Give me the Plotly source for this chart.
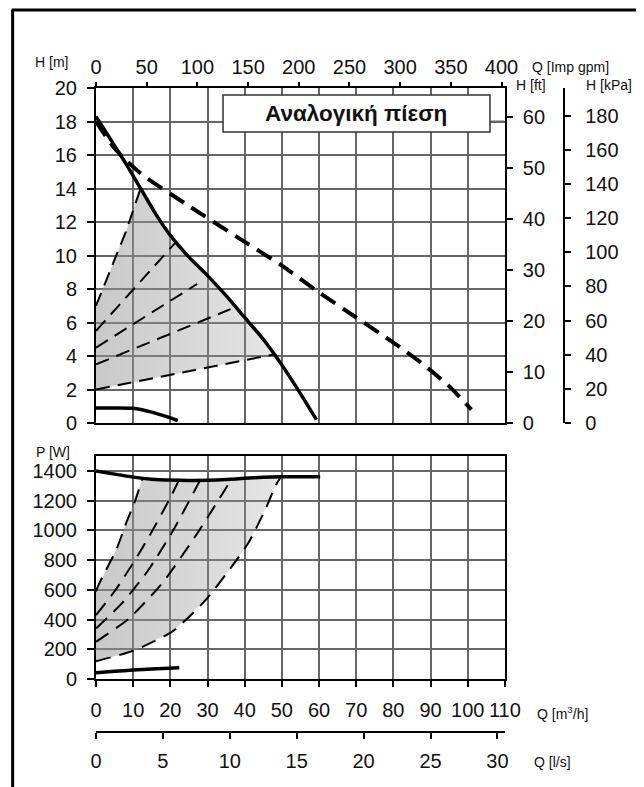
import plotly.graph_objects as go

# ---------------- data ----------------
# Top chart: head H [m] versus flow Q [m3/h]
q_hmax = [0, 4, 8, 12, 16, 20, 25, 30, 35, 40, 45, 48, 52, 56, 59.3]
h_hmax = [18.3, 16.9, 15.5, 14.0, 12.5, 11.2, 9.9, 8.8, 7.6, 6.3, 5.0, 4.1, 2.8, 1.4, 0.2]
q_hdash = [0, 5, 12, 24, 38, 50, 60, 70, 80, 88, 95, 101]
h_hdash = [18.0, 16.4, 14.9, 13.1, 11.1, 9.4, 7.8, 6.3, 4.8, 3.5, 2.2, 0.8]
q_hmin = [0, 5, 10, 15, 19, 22]
h_hmin = [0.9, 0.9, 0.88, 0.65, 0.38, 0.15]
# proportional-pressure curves (head)
q_pp = [[0, 4, 8, 12], [0, 21.5], [0, 27.2], [0, 36.2], [0, 48]]
h_pp = [[7.0, 9.2, 11.4, 14.0], [5.5, 10.8], [4.5, 8.3], [3.5, 6.8], [2.0, 4.1]]

# Bottom chart: power P [W] versus flow Q [m3/h]
q_pmax = [0, 5, 10, 15, 20, 25, 30, 35, 40, 45, 50, 60.3]
p_pmax = [1400, 1378, 1358, 1344, 1338, 1336, 1337, 1342, 1350, 1357, 1360, 1360]
q_pmin = [0, 5, 10, 15, 22.4]
p_pmin = [42, 52, 60, 67, 75]
q_ppw = [[0, 1, 5.5, 8.2, 10.4, 12.5],
         [0, 5, 10, 15, 20, 22.3],
         [0, 7, 14, 21, 28],
         [0, 9, 18, 27, 36.5],
         [0, 10, 20.6, 29.6, 36.6, 41.1, 45.6, 48.3, 49.8]]
p_ppw = [[590, 650, 872, 1055, 1190, 1350],
         [430, 590, 780, 990, 1220, 1336],
         [340, 510, 730, 1010, 1337],
         [250, 410, 650, 970, 1345],
         [120, 190, 320, 534, 759, 920, 1143, 1300, 1360]]

# axis ticks
q_ticks = list(range(0, 111, 10))
gpm_ticks = list(range(0, 401, 50))
ls_ticks = list(range(0, 31, 5))
h_ticks = list(range(0, 21, 2))
ft_ticks = list(range(0, 61, 10))
kpa_ticks = list(range(0, 181, 20))
p_ticks = list(range(0, 1401, 200))
legend_text = "Αναλογική πίεση"

# unit conversions
GPM_TO_M3H = 0.272765
LS_TO_M3H = 3.6
M_TO_FT = 1 / 0.3048
M_TO_KPA = 9.80665

# ---------------- layout geometry (page has an 8px body margin) ----------------
OFF = 8
W, H = 644 - OFF, 787 - OFF
ML, MT = 96 - OFF, 88 - OFF
MR = W - (620 - OFF)
MB = H - (760 - OFF)
PW = W - ML - MR
PH = H - MT - MB


def fx(px):
    return (px - OFF - ML) / PW


def fy(py):
    return (H - MB - (py - OFF)) / PH


xdom = [0, fx(508)]
top_dom = [fy(423), 1.0]
bot_dom = [fy(679), fy(456)]

FONT = "Liberation Sans, Arial, sans-serif"
tickfont = dict(family=FONT, size=20, color="#111")
GRID = "#666666"
GW = 1.5

fig = go.Figure()

# ---- shaded operating areas ----
grad = dict(type="horizontal",
            colorscale=[[0, "rgba(150,150,150,0.52)"], [1, "rgba(150,150,150,0.24)"]])

top_poly_x = q_pp[4] + [q for q in reversed(q_hmax) if q_pp[0][-1] < q < q_pp[4][-1]] + list(reversed(q_pp[0]))
top_poly_y = h_pp[4] + [h for q, h in zip(reversed(q_hmax), reversed(h_hmax)) if q_pp[0][-1] < q < q_pp[4][-1]] + list(reversed(h_pp[0]))
fig.add_trace(go.Scatter(x=top_poly_x, y=top_poly_y, xaxis="x2", yaxis="y2", mode="lines",
                         fill="toself", fillgradient=grad, line=dict(width=0), hoverinfo="skip"))

bot_poly_x = q_ppw[4] + [q for q in reversed(q_pmax) if q_ppw[0][-1] < q < q_ppw[4][-1]] + list(reversed(q_ppw[0]))
bot_poly_y = p_ppw[4] + [p for q, p in zip(reversed(q_pmax), reversed(p_pmax)) if q_ppw[0][-1] < q < q_ppw[4][-1]] + list(reversed(p_ppw[0]))
fig.add_trace(go.Scatter(x=bot_poly_x, y=bot_poly_y, xaxis="x", yaxis="y", mode="lines",
                         fill="toself", fillgradient=grad, line=dict(width=0), hoverinfo="skip"))

# ---- proportional pressure dashed curves ----
for qs, hs in zip(q_pp, h_pp):
    fig.add_trace(go.Scatter(x=qs, y=hs, xaxis="x2", yaxis="y2", mode="lines",
                             line=dict(color="black", width=2, dash="14px,8px")))
for qs, ps in zip(q_ppw, p_ppw):
    fig.add_trace(go.Scatter(x=qs, y=ps, xaxis="x", yaxis="y", mode="lines",
                             line=dict(color="black", width=2, dash="15px,9px", shape="spline", smoothing=0.6)))

# ---- main curves ----
fig.add_trace(go.Scatter(x=q_hdash, y=h_hdash, xaxis="x2", yaxis="y2", mode="lines",
                         line=dict(color="black", width=4, dash="17px,9px", shape="spline", smoothing=0.6)))
fig.add_trace(go.Scatter(x=q_hmax, y=h_hmax, xaxis="x2", yaxis="y2", mode="lines",
                         line=dict(color="black", width=3.5, shape="spline", smoothing=0.6)))
fig.add_trace(go.Scatter(x=q_hmin, y=h_hmin, xaxis="x2", yaxis="y2", mode="lines",
                         line=dict(color="black", width=3.5, shape="spline", smoothing=0.6)))
fig.add_trace(go.Scatter(x=q_pmax, y=p_pmax, xaxis="x", yaxis="y", mode="lines",
                         line=dict(color="black", width=3.5, shape="spline", smoothing=0.6)))
fig.add_trace(go.Scatter(x=q_pmin, y=p_pmin, xaxis="x", yaxis="y", mode="lines",
                         line=dict(color="black", width=3.5, shape="spline", smoothing=0.6)))

# ---- invisible copies in secondary units so the unit axes get drawn ----
hidden = dict(mode="lines", line=dict(width=0, color="rgba(0,0,0,0)"), hoverinfo="skip")
fig.add_trace(go.Scatter(x=[q / GPM_TO_M3H for q in q_hmax], y=h_hmax, xaxis="x3", yaxis="y2", **hidden))
fig.add_trace(go.Scatter(x=q_hmax, y=[h * M_TO_FT for h in h_hmax], xaxis="x2", yaxis="y3", **hidden))
fig.add_trace(go.Scatter(x=q_hmax, y=[h * M_TO_KPA for h in h_hmax], xaxis="x2", yaxis="y4", **hidden))
fig.add_trace(go.Scatter(x=[q / LS_TO_M3H for q in q_pmax], y=p_pmax, xaxis="x4", yaxis="y", **hidden))

base_axis = dict(showline=True, linecolor="black", linewidth=2, zeroline=False,
                 tickfont=tickfont, tickcolor="black", tickwidth=1.5)

fig.update_layout(
    width=W, height=H,
    margin=dict(l=ML, r=MR, t=MT, b=MB),
    paper_bgcolor="white", plot_bgcolor="white",
    showlegend=False,
    xaxis=dict(base_axis, domain=xdom, anchor="y", range=[0, 110], tickvals=q_ticks,
               ticks="outside", ticklen=6, mirror=True, showgrid=True, gridcolor=GRID, gridwidth=GW,
               ticklabelstandoff=6),
    yaxis=dict(base_axis, domain=bot_dom, anchor="x", range=[0, 1500], tickvals=p_ticks,
               ticks="outside", ticklen=7, mirror=True, showgrid=True, gridcolor=GRID, gridwidth=GW,
               ticklabelstandoff=6),
    xaxis2=dict(base_axis, domain=xdom, anchor="y2", range=[0, 110], tickvals=q_ticks,
                ticks="", showticklabels=False, mirror=True, showgrid=True, gridcolor=GRID, gridwidth=GW),
    yaxis2=dict(base_axis, domain=top_dom, anchor="x2", range=[0, 20], tickvals=h_ticks,
                ticks="outside", ticklen=7, mirror=True, showgrid=True, gridcolor=GRID, gridwidth=GW,
                ticklabelstandoff=6),
    xaxis3=dict(base_axis, overlaying="x2", anchor="y2", side="top", showline=False,
                range=[0, 110 / GPM_TO_M3H], tickvals=gpm_ticks, ticks="outside", ticklen=5,
                showgrid=False),
    yaxis3=dict(base_axis, overlaying="y2", anchor="x2", side="right", showline=False,
                range=[0, 20 * M_TO_FT], tickvals=ft_ticks, ticks="outside", ticklen=7,
                showgrid=False, ticklabelstandoff=6),
    yaxis4=dict(base_axis, overlaying="y2", anchor="free", position=fx(568), side="right",
                linewidth=1.5, range=[0, 20 * M_TO_KPA], tickvals=kpa_ticks, ticks="outside",
                ticklen=6, showgrid=False, ticklabelstandoff=10),
    xaxis4=dict(base_axis, overlaying="x", anchor="free", position=fy(732), side="bottom",
                linewidth=1.5, range=[0, 110 / LS_TO_M3H], tickvals=ls_ticks, ticks="outside",
                ticklen=6, showgrid=False, ticklabelstandoff=5),
)

# ---- axis unit labels ----
unit_font = dict(family=FONT, size=14, color="#111")
labels = [("H [m]", 51, 62), ("Q [Imp gpm]", 574, 67), ("H [ft]", 534, 85),
          ("H [kPa]", 613, 85), ("P [W]", 53, 452), ("Q [m<sup>3</sup>/h]", 566, 713),
          ("Q [l/s]", 556, 762)]
for txt, px, py in labels:
    fig.add_annotation(text=txt, x=fx(px), y=fy(py), xref="paper", yref="paper",
                       showarrow=False, xanchor="center", yanchor="middle", font=unit_font)

# ---- legend box ----
fig.add_shape(type="rect", xref="paper", yref="paper", x0=fx(224), x1=fx(493), y0=fy(132), y1=fy(95),
              line=dict(color="#333", width=1.5), fillcolor="white", layer="above")
fig.add_shape(type="line", xref="paper", yref="paper", x0=fx(493), x1=fx(507), y0=fy(121), y1=fy(121),
              line=dict(color="#666", width=1), layer="above")
fig.add_annotation(text="<b>" + legend_text + "</b>", x=fx(358), y=fy(114), xref="paper", yref="paper",
                   showarrow=False, xanchor="center", yanchor="middle",
                   font=dict(family=FONT, size=22.5, color="#111"))

# ---- outer frame ----
fig.add_shape(type="line", xref="paper", yref="paper", x0=fx(12), x1=fx(12), y0=fy(10), y1=fy(800),
              line=dict(color="black", width=3))
fig.add_shape(type="line", xref="paper", yref="paper", x0=fx(11), x1=fx(660), y0=fy(10), y1=fy(10),
              line=dict(color="black", width=3))

fig.write_html("out.html")
